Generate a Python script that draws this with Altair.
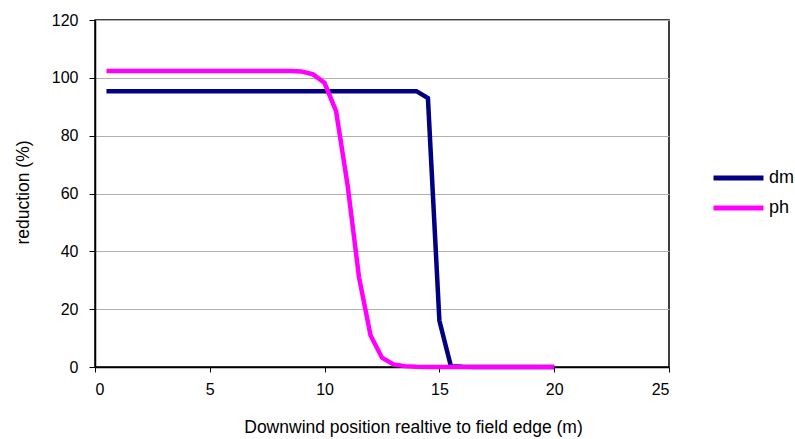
import altair as alt
import pandas as pd

positions = [0.5, 1.0, 1.5, 2.0, 2.5, 3.0, 3.5, 4.0, 4.5, 5.0,
             5.5, 6.0, 6.5, 7.0, 7.5, 8.0, 8.5, 9.0, 9.5, 10.0,
             10.5, 11.0, 11.5, 12.0, 12.5, 13.0, 13.5, 14.0, 14.5, 15.0,
             15.5, 16.0, 16.5, 17.0, 17.5, 18.0, 18.5, 19.0, 19.5, 20.0]

dm = [95.4, 95.4, 95.4, 95.4, 95.4, 95.4, 95.4, 95.4, 95.4, 95.4,
      95.4, 95.4, 95.4, 95.4, 95.4, 95.4, 95.4, 95.4, 95.4, 95.4,
      95.4, 95.4, 95.4, 95.4, 95.4, 95.4, 95.4, 95.4, 93.0, 16.0,
      0.3, 0.1, 0.0, 0.0, 0.0, 0.0, 0.0, 0.0, 0.0, 0.0]

ph = [102.4, 102.4, 102.4, 102.4, 102.4, 102.4, 102.4, 102.4, 102.4, 102.4,
      102.4, 102.4, 102.4, 102.4, 102.4, 102.4, 102.4, 102.2, 101.2, 98.2,
      88.5, 63.0, 31.0, 11.0, 3.2, 0.9, 0.3, 0.1, 0.0, 0.0,
      0.0, 0.0, 0.0, 0.0, 0.0, 0.0, 0.0, 0.0, 0.0, 0.0]

series_names = ["dm", "ph"]
series_colors = ["#000080", "#FF00FF"]

rows = []
for name, vals in zip(series_names, [dm, ph]):
    for x, v in zip(positions, vals):
        rows.append({"position": x, "reduction": v, "series": name})
df = pd.DataFrame(rows)

FONT = "Liberation Sans"

chart = alt.Chart(df).mark_line(strokeWidth=4.5, strokeJoin="miter").encode(
    x=alt.X("position:Q",
            scale=alt.Scale(domain=[0, 25], nice=False),
            axis=alt.Axis(values=[0, 5, 10, 15, 20, 25], grid=False,
                          title="Downwind position realtive to field edge (m)",
                          titleX=318, titleY=60, titleBaseline="middle",
                          titleAlign="center", titleFontSize=17.5,
                          tickSize=5, labelPadding=9)),
    y=alt.Y("reduction:Q",
            scale=alt.Scale(domain=[0, 120], nice=False),
            axis=alt.Axis(values=[0, 20, 40, 60, 80, 100, 120], grid=True,
                          title="reduction (%)",
                          titleX=-72, titleY=172, titleBaseline="middle",
                          titleAlign="center", titleAngle=-90,
                          titleFontSize=17.5,
                          tickSize=6, labelPadding=11)),
    color=alt.Color("series:N",
                    scale=alt.Scale(domain=series_names, range=series_colors),
                    legend=alt.Legend(title=None, orient="none",
                                      legendX=616, legendY=148,
                                      symbolType="stroke", symbolSize=2500,
                                      symbolStrokeWidth=5, labelFontSize=18,
                                      labelFont=FONT, labelColor="black",
                                      labelOffset=3, clipHeight=20,
                                      rowPadding=10)),
    order="position:Q",
).properties(
    width=574, height=347,
    background="white",
    autosize=alt.AutoSizeParams(type="none"),
    padding={"left": 95, "top": 20, "right": 126, "bottom": 72},
).configure_view(
    stroke="black", strokeWidth=1.5
).configure_axis(
    labelFont=FONT, labelFontSize=16, labelColor="black",
    titleFont=FONT, titleFontWeight="normal", titleColor="black",
    domainColor="black", domainWidth=1.5, tickColor="black", tickWidth=1,
    gridColor="#b0b0b0", gridWidth=1
)

chart.save("out.html", embed_options={"renderer": "svg", "actions": False})
